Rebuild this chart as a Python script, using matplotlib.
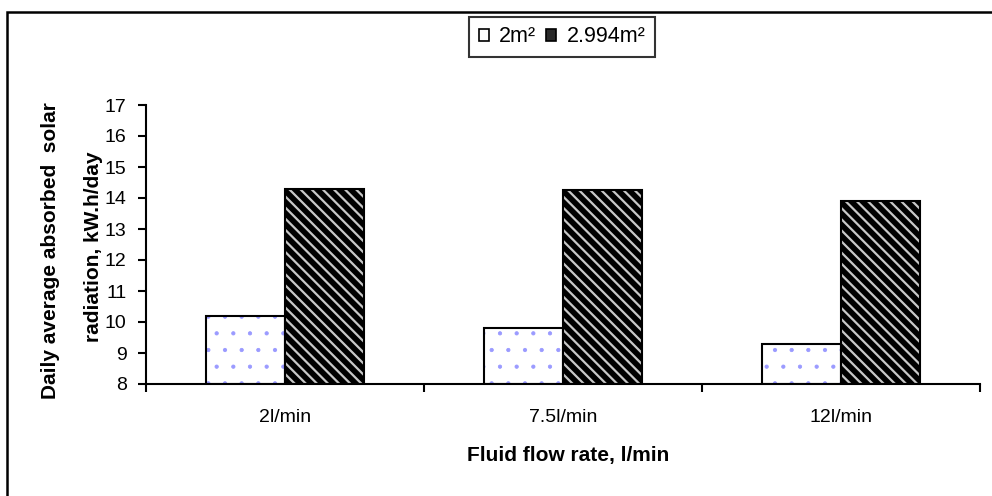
import matplotlib
matplotlib.use('agg')
import matplotlib.pyplot as plt
from matplotlib.patches import Rectangle, Patch
import numpy as np

# data
flow_rates = ["2l/min", "7.5l/min", "12l/min"]
area_small = [10.2, 9.8, 9.3]      # 2 m2 collector
area_large = [14.3, 14.25, 13.9]   # 2.994 m2 collector
series_names = ["2m\u00b2", "2.994m\u00b2"]
y_ticks = list(range(8, 18))

plt.rcParams['font.family'] = ['Liberation Sans', 'DejaVu Sans']

fig = plt.figure(figsize=(9.92, 4.96), dpi=100)
ax = fig.add_axes([146/992, 1-384/496, (980-146)/992, (384-105)/496])

x = np.arange(len(flow_rates))
w = 0.285
base = 8

# white bars with light blue dots
with plt.rc_context({'hatch.linewidth': 0.6}):
    ax.bar(x - w/2, np.array(area_small) - base, w, bottom=base, color='white',
           edgecolor='#9a9aff', hatch='.', linewidth=0)
ax.bar(x - w/2, np.array(area_small) - base, w, bottom=base, fill=False,
       edgecolor='black', linewidth=1.5)
# black bars with light diagonal stripes
with plt.rc_context({'hatch.linewidth': 1.6}):
    ax.bar(x + w/2, np.array(area_large) - base, w, bottom=base, color='black',
           edgecolor='#c8c8c8', hatch='\\\\\\', linewidth=0)
ax.bar(x + w/2, np.array(area_large) - base, w, bottom=base, fill=False,
       edgecolor='black', linewidth=1.5)

ax.set_xlim(-0.5, len(flow_rates) - 0.5)
ax.set_ylim(8, 17)
ax.set_yticks(y_ticks)
ax.set_xticks(np.arange(len(flow_rates) + 1) - 0.5)
ax.set_xticklabels([])
ax.set_xticks(x, minor=True)
ax.set_xticklabels(flow_rates, minor=True)
ax.tick_params(axis='x', which='minor', length=0, pad=18, labelsize=14)
ax.tick_params(axis='x', which='major', length=6, width=1.5, direction='out')
ax.tick_params(axis='y', length=6, width=1.5, direction='out', pad=8, labelsize=14)

for s in ['top', 'right']:
    ax.spines[s].set_visible(False)
for s in ['left', 'bottom']:
    ax.spines[s].set_linewidth(1.5)

# axis titles
fig.text(568/992, 1-455/496, "Fluid flow rate, l/min", fontsize=15, fontweight='bold',
         ha='center', va='center')
fig.text(51/992, 1-251/496, "Daily average absorbed  solar", fontsize=15,
         fontweight='bold', rotation=90, ha='center', va='center')
fig.text(93.5/992, 1-247/496, "radiation, kW.h/day", fontsize=15,
         fontweight='bold', rotation=90, ha='center', va='center')

handles = [Patch(facecolor='white', edgecolor='black', linewidth=1.2),
           Patch(facecolor='#2a2a2a', edgecolor='black', linewidth=1.2)]
leg = fig.legend(handles, series_names, loc='center', bbox_to_anchor=(562/992, 1-37/496),
                 ncol=2, fontsize=15.5, frameon=True, fancybox=False,
                 handlelength=0.45, handleheight=0.45, handletextpad=0.5,
                 columnspacing=0.45, borderpad=0.45, borderaxespad=0)
leg.get_frame().set_edgecolor('black')
leg.get_frame().set_linewidth(1.5)

# outer chart border (only top and left are inside the picture)
fig.patches.append(Rectangle((7/992, -0.1), 1.2, 0.1 + (1-12/496), transform=fig.transFigure,
                             fill=False, edgecolor='black', linewidth=1.8))

fig.savefig("out.png", dpi=100)
